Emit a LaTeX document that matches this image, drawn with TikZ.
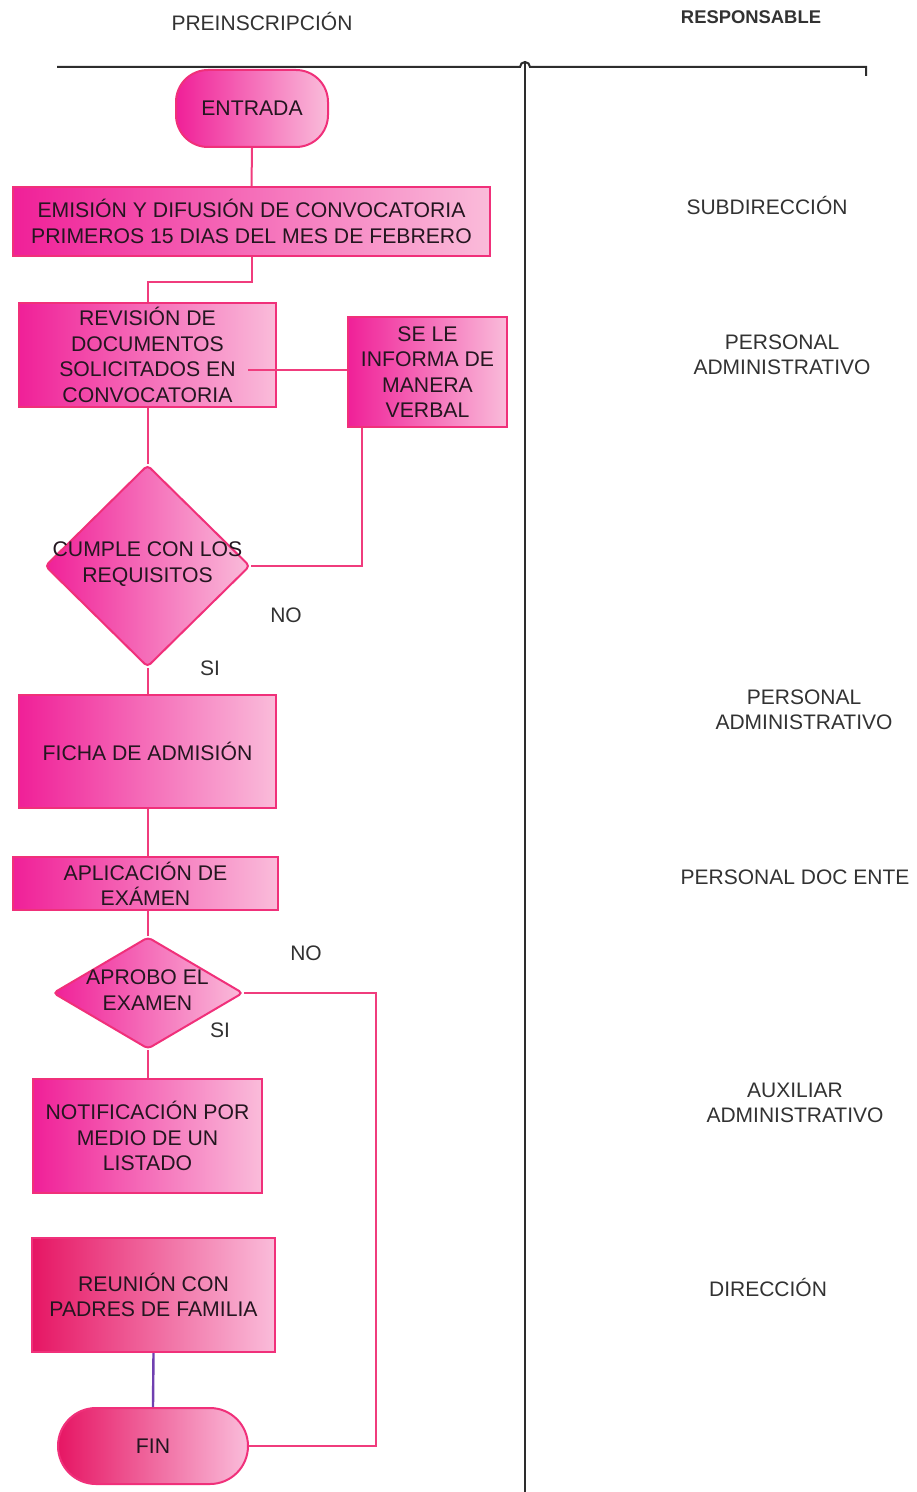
\documentclass[tikz,border=0pt]{standalone}
\usepackage{fontspec}
\setmainfont{Liberation Sans}
\usetikzlibrary{shapes.geometric,calc}

\definecolor{pinkdeep}{RGB}{240,32,152}
\definecolor{pinklight}{RGB}{250,188,218}
\definecolor{rosedeep}{RGB}{230,22,100}
\definecolor{edgepink}{RGB}{240,48,122}
\definecolor{flowline}{RGB}{240,60,125}
\definecolor{purpleline}{RGB}{112,64,176}
\definecolor{txt}{RGB}{36,22,32}
\definecolor{labelgray}{RGB}{50,50,50}
\definecolor{rulegray}{RGB}{45,45,45}

\begin{document}
\begin{tikzpicture}[x=0.5pt,y=-0.5pt,
  boxfont/.style={font=\fontsize{10.6}{12.7}\selectfont, text=txt},
  procbox/.style={draw=edgepink, line width=1pt, left color=pinkdeep,
    right color=pinklight, align=center, inner sep=0pt, boxfont},
  redbox/.style={procbox, left color=rosedeep},
  terminal/.style={procbox, rounded corners=#1},
  decision/.style={diamond, draw=edgepink, line width=1pt, left color=pinkdeep,
    right color=pinklight, inner sep=0pt, rounded corners=2pt},
  inlabel/.style={align=center, boxfont, inner sep=0pt},
  sidelabel/.style={align=center, font=\fontsize{10.5}{12.6}\selectfont,
    text=labelgray, inner sep=0pt},
  flow/.style={draw=flowline, line width=1pt},
  divider/.style={draw=rulegray, line width=1pt}
]
\useasboundingbox (0,0) rectangle (916,1492);

% column headings
\node[sidelabel] (hproc) at (262,22) {PREINSCRIPCIÓN};
\node[sidelabel, font=\bfseries\fontsize{9.2}{11}\selectfont] (hresp) at (751,17) {RESPONSABLE};

% column rules: heading line with a jump over the vertical divider
\coordinate (ruleL) at (57,67);
\coordinate (ruleR) at (866,67);
\coordinate (jumpL) at (520,67);
\coordinate (jumpR) at (530,67);
\coordinate (divTop) at (525,62);
\coordinate (divBot) at (525,1492);
\coordinate (tickEnd) at (866,76);
\draw[divider] (ruleL) -- (jumpL) arc[start angle=180, end angle=360, radius=5] -- (ruleR) -- (tickEnd);
\draw[divider] (divTop) -- (divBot);

% flow nodes
\node[terminal=16pt, minimum width=76pt, minimum height=38.5pt] (entrada) at (252,108.5) {ENTRADA};
\node[procbox, minimum width=238.5pt, minimum height=34.5pt] (emision) at (251.5,221.5)
  {EMISIÓN Y DIFUSIÓN DE CONVOCATORIA\\PRIMEROS 15 DIAS DEL MES DE FEBRERO};
\node[procbox, minimum width=128.5pt, minimum height=52pt] (revision) at (147.5,355)
  {REVISIÓN DE\\DOCUMENTOS\\SOLICITADOS EN\\CONVOCATORIA};
\node[procbox, minimum width=79.5pt, minimum height=55pt] (informa) at (427.5,372)
  {SE LE\\INFORMA DE\\MANERA\\VERBAL};
\node[decision, minimum width=102.5pt, minimum height=101pt] (cumple) at (147.5,566) {};
\node[inlabel] (cumpletxt) at (147.5,564) {CUMPLE CON LOS\\REQUISITOS};
\node[procbox, minimum width=128.5pt, minimum height=56.5pt] (ficha) at (147.5,751.5)
  {FICHA DE ADMISIÓN};
\node[procbox, minimum width=132.5pt, minimum height=26.5pt] (examen) at (145.5,883.5)
  {APLICACIÓN DE\\EXÁMEN};
\node[decision, minimum width=95pt, minimum height=56pt] (aprobo) at (148,993) {};
\node[inlabel] (aprobotxt) at (147.5,990) {APROBO EL\\EXAMEN};
\node[procbox, minimum width=114.5pt, minimum height=57pt] (notif) at (147.5,1136)
  {NOTIFICACIÓN POR\\MEDIO DE UN\\LISTADO};
\node[redbox, minimum width=121.5pt, minimum height=57pt] (reunion) at (153.5,1295)
  {REUNIÓN CON\\PADRES DE FAMILIA};
\node[terminal=19pt, left color=rosedeep, minimum width=95pt, minimum height=38pt] (fin) at (153,1446) {FIN};

% branch labels
\node[sidelabel] (no1) at (286,615) {NO};
\node[sidelabel] (si1) at (210,668) {SI};
\node[sidelabel] (no2) at (306,953) {NO};
\node[sidelabel] (si2) at (220,1030) {SI};

% responsible parties
\node[sidelabel] (r1) at (767,205) {SUBDIRECCIÓN};
\node[sidelabel] (r2) at (782,355) {PERSONAL\\ADMINISTRATIVO};
\node[sidelabel] (r3) at (804,710) {PERSONAL\\ADMINISTRATIVO};
\node[sidelabel] (r4) at (795,877) {PERSONAL DOC ENTE};
\node[sidelabel] (r5) at (795,1103) {AUXILIAR\\ADMINISTRATIVO};
\node[sidelabel] (r6) at (768,1287) {DIRECCIÓN};

% connectors
\coordinate (revIn) at (248,370);
\draw[flow] (entrada.south) -- (emision.north);
\draw[flow] (emision.south) -- ++(0,25) -| (revision.north);
\draw[flow] (informa.west |- revIn) -- (revIn);
\draw[flow] (revision.south) -- (cumple.north);
\draw[flow] (cumple.east) -| ($(informa.south west)+(15,0)$);
\draw[flow] (cumple.south) -- (ficha.north);
\draw[flow] (ficha.south) -- (examen.north -| ficha.south);
\draw[flow] (examen.south -| aprobo.north) -- (aprobo.north);
\draw[flow] (aprobo.east) -- ++(132,0) |- (fin.east);
\draw[flow] (aprobo.south) -- (notif.north -| aprobo.south);
\draw[draw=purpleline, line width=1.2pt] (reunion.south) -- (fin.north);
\end{tikzpicture}
\end{document}
